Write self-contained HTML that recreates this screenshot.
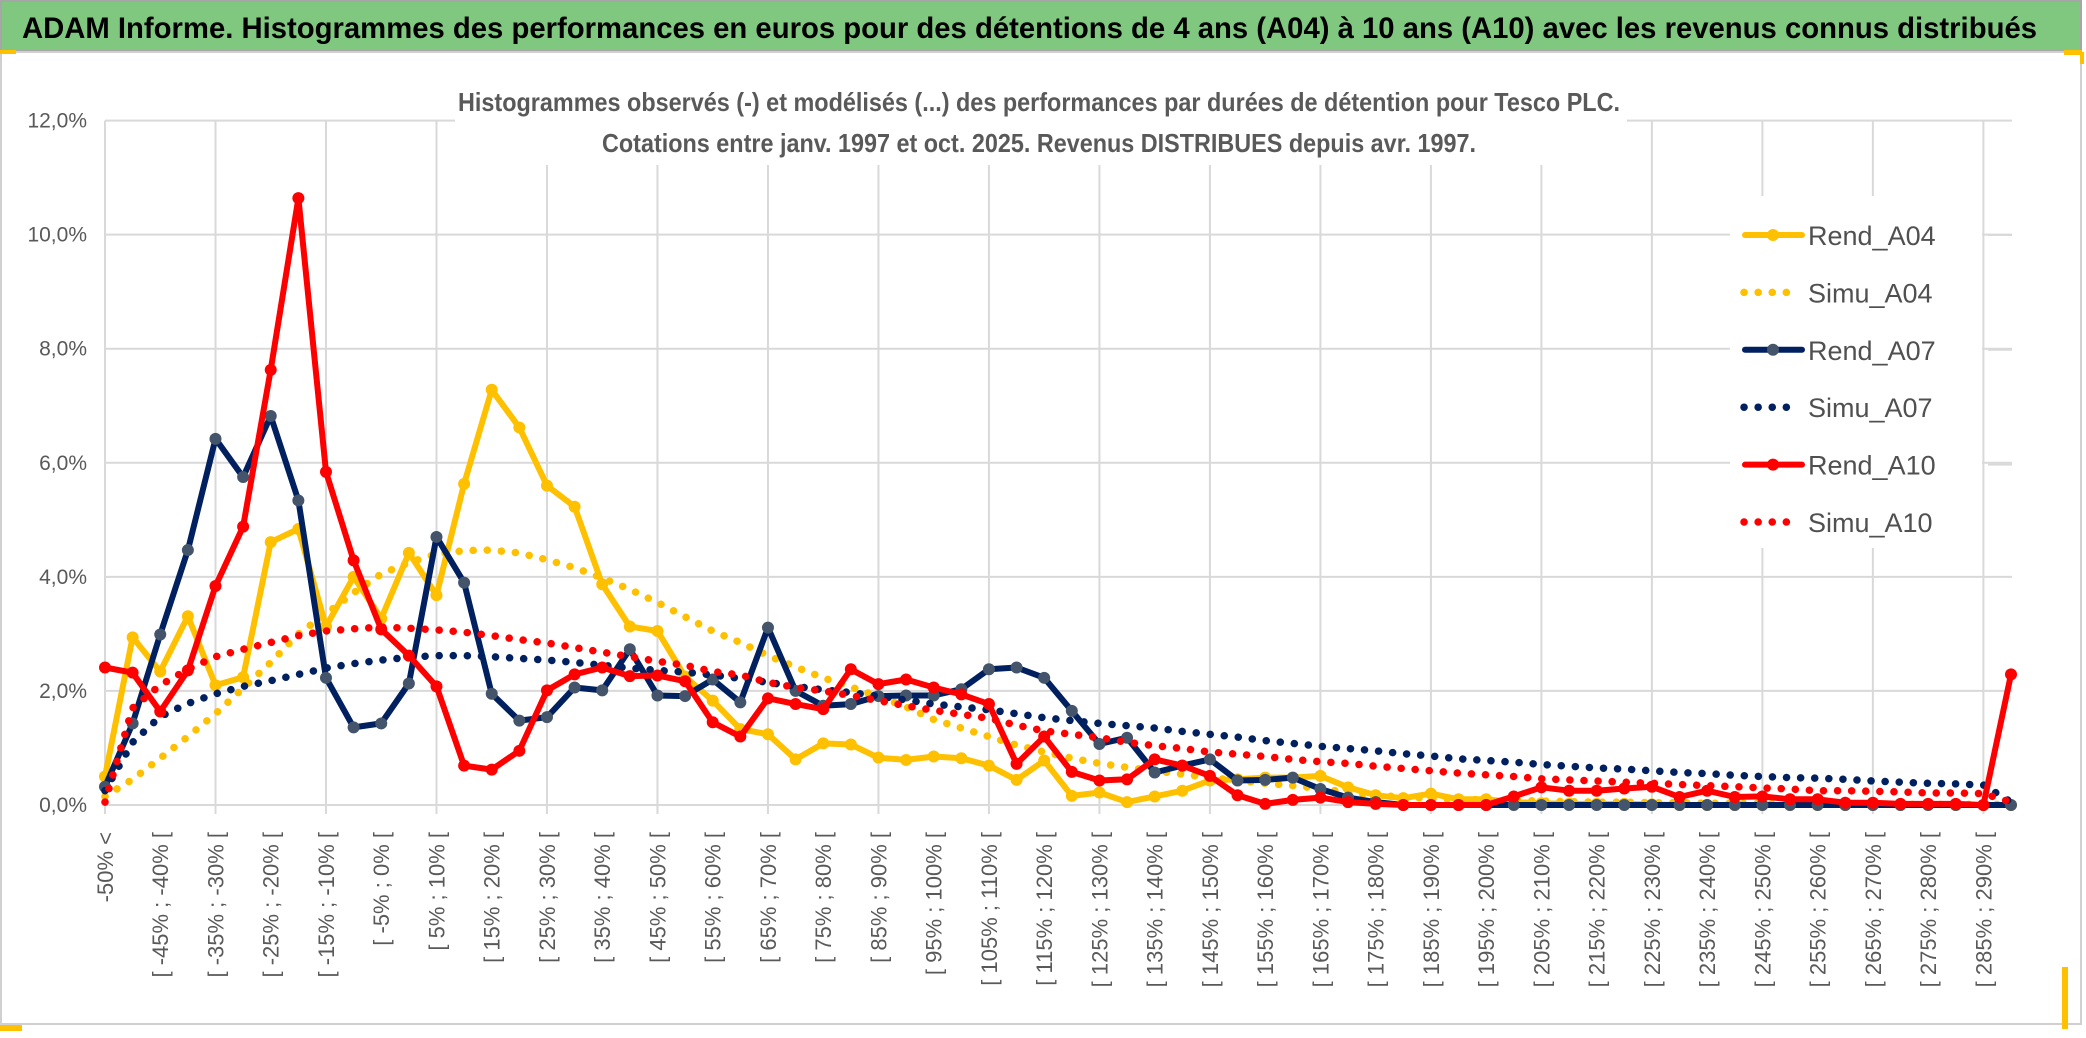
<!DOCTYPE html>
<html><head><meta charset="utf-8">
<style>
html,body{margin:0;padding:0;background:#fff;}
body{width:2086px;height:1033px;overflow:hidden;font-family:"Liberation Sans",sans-serif;}
svg text{font-family:"Liberation Sans",sans-serif;}
</style></head>
<body>
<svg id="chart" width="2086" height="1033" viewBox="0 0 2086 1033" xmlns="http://www.w3.org/2000/svg">
  <rect x="0" y="0" width="2086" height="1033" fill="#fff"/>
  <rect x="1" y="1" width="2080" height="50" fill="#80C880" stroke="#a6a6a6" stroke-width="2"/>
  <text x="22" y="38" font-size="30" font-weight="bold" fill="#000" textLength="2015" lengthAdjust="spacingAndGlyphs">ADAM Informe. Histogrammes des performances en euros pour des détentions de 4 ans (A04) à 10 ans (A10) avec les revenus connus distribués</text>
  <rect x="1" y="52" width="2080" height="972" fill="#fff" stroke="#d0d0d0" stroke-width="2"/>
  <rect x="0" y="50" width="16" height="4" fill="#FFC000"/>
  <rect x="2064" y="50" width="18" height="5" fill="#FFC000"/>
  <rect x="2080" y="52" width="4" height="12" fill="#FFC000"/>
  <rect x="0" y="1025" width="22" height="6" fill="#FFC000"/>
  <rect x="2062" y="967" width="6" height="62" fill="#FFC000"/>
  <g id="grid"></g>
  <g id="chart-title-box">
    <rect x="455" y="70" width="1172" height="95" fill="#fff"/>
    <text x="1039" y="111" font-size="26" font-weight="bold" fill="#595959" text-anchor="middle" textLength="1162" lengthAdjust="spacingAndGlyphs">Histogrammes observés (-) et modélisés (...) des performances par durées de détention pour Tesco PLC.</text>
    <text x="1039" y="152" font-size="26" font-weight="bold" fill="#595959" text-anchor="middle" textLength="874" lengthAdjust="spacingAndGlyphs">Cotations entre janv. 1997 et oct. 2025. Revenus DISTRIBUES depuis avr. 1997.</text>
  </g>
  <g id="yticks"></g>
  <g id="xticks"></g>
  <g id="series"></g>
  <g id="legend"></g>
</svg>
<script>
const categories = ["-50% <"];
for (let k = 1; k < 70; k++) { categories.push("[ " + (-55 + 5 * k) + "% ; " + (-50 + 5 * k) + "% ["); }
const yTickValues = [0, 2, 4, 6, 8, 10, 12];
const yTickLabels = ["0,0%", "2,0%", "4,0%", "6,0%", "8,0%", "10,0%", "12,0%"];
const rendA04 = [0.5,2.94,2.34,3.31,2.1,2.24,4.61,4.84,3.13,4.0,3.27,4.42,3.68,5.63,7.28,6.62,5.6,5.23,3.87,3.13,3.05,2.25,1.83,1.33,1.24,0.8,1.08,1.06,0.83,0.79,0.85,0.82,0.69,0.44,0.78,0.16,0.22,0.05,0.15,0.25,0.43,0.45,0.48,0.48,0.51,0.31,0.17,0.12,0.2,0.1,0.1,0.05,0.03,0.02,0.02,0.02,0.01,0,0,0,0,0,0,0,0,0,0,0,0,0];
const simuA04 = [0.15,0.45,0.82,1.2,1.6,2.05,2.5,3.0,3.35,3.72,4.05,4.25,4.4,4.46,4.47,4.42,4.3,4.16,3.98,3.78,3.55,3.3,3.05,2.85,2.62,2.42,2.23,2.07,1.9,1.72,1.5,1.35,1.2,1.05,0.93,0.82,0.73,0.66,0.6,0.54,0.48,0.43,0.38,0.34,0.29,0.22,0.17,0.14,0.12,0.1,0.09,0.08,0.07,0.06,0.05,0.05,0.04,0.04,0.03,0.03,0.03,0.02,0.02,0.02,0.02,0.01,0.01,0.01,0.01,0.01];
const rendA07 = [0.32,1.43,2.99,4.47,6.42,5.75,6.82,5.34,2.23,1.36,1.43,2.13,4.7,3.9,1.95,1.48,1.54,2.06,2.01,2.73,1.92,1.91,2.2,1.8,3.11,2.0,1.74,1.77,1.91,1.92,1.92,2.03,2.38,2.41,2.23,1.65,1.07,1.18,0.57,0.69,0.8,0.43,0.44,0.48,0.28,0.13,0.05,0,0,0,0,0,0,0,0,0,0,0,0,0,0,0,0,0,0,0,0,0,0,0];
const simuA07 = [0.25,1.1,1.55,1.78,1.95,2.08,2.18,2.29,2.4,2.48,2.54,2.59,2.62,2.62,2.6,2.57,2.54,2.5,2.45,2.4,2.36,2.33,2.28,2.22,2.15,2.08,2.02,1.97,1.91,1.84,1.77,1.72,1.67,1.6,1.53,1.48,1.43,1.39,1.35,1.29,1.24,1.19,1.13,1.08,1.03,0.99,0.95,0.9,0.86,0.81,0.78,0.75,0.71,0.68,0.65,0.63,0.6,0.57,0.55,0.52,0.5,0.48,0.47,0.45,0.42,0.4,0.38,0.37,0.35,0.05];
const rendA10 = [2.41,2.32,1.64,2.36,3.84,4.88,7.63,10.64,5.84,4.29,3.08,2.62,2.08,0.69,0.62,0.95,2.01,2.29,2.41,2.26,2.27,2.17,1.45,1.2,1.87,1.77,1.68,2.38,2.12,2.2,2.06,1.94,1.77,0.72,1.2,0.58,0.43,0.45,0.8,0.69,0.51,0.17,0.02,0.09,0.13,0.05,0.02,0,0,0,0,0.15,0.31,0.25,0.25,0.29,0.32,0.14,0.25,0.14,0.15,0.1,0.1,0.04,0.04,0.02,0.02,0.02,0,2.29];
const simuA10 = [0.05,1.7,2.1,2.38,2.6,2.73,2.85,2.97,3.05,3.09,3.12,3.1,3.07,3.03,2.97,2.9,2.84,2.76,2.68,2.6,2.52,2.45,2.34,2.28,2.15,2.06,2.0,1.92,1.83,1.74,1.66,1.59,1.52,1.4,1.3,1.24,1.18,1.1,1.04,0.99,0.93,0.89,0.85,0.8,0.76,0.73,0.68,0.64,0.6,0.56,0.53,0.5,0.46,0.44,0.42,0.4,0.38,0.36,0.34,0.32,0.3,0.28,0.25,0.25,0.24,0.23,0.21,0.21,0.2,0.05];
const seriesNames = ["Rend_A04","Simu_A04","Rend_A07","Simu_A07","Rend_A10","Simu_A10"];

const NS = "http://www.w3.org/2000/svg";
const X0 = 105, X1 = 2011, Y0 = 805, Y1 = 120.6, YMAX = 12;
function xPos(i) { return X0 + (X1 - X0) * i / (categories.length - 1); }
function yPos(v) { return Y0 - (Y0 - Y1) * v / YMAX; }
function mk(tag, attrs, parent) {
  const e = document.createElementNS(NS, tag);
  for (const k in attrs) e.setAttribute(k, attrs[k]);
  parent.appendChild(e);
  return e;
}

const grid = document.getElementById("grid");
yTickValues.forEach(function (v) {
  const l = mk("line", {x1: X0, x2: X1 + 1, y1: yPos(v), y2: yPos(v), stroke: "#d9d9d9", "stroke-width": 2}, grid);
  
  
});
for (let i = 0; i < categories.length; i += 4) {
  const l = mk("line", {x1: xPos(i), x2: xPos(i), y1: yPos(YMAX), y2: Y0 + 9, stroke: "#d9d9d9", "stroke-width": 2}, grid);
  
  
}

const yt = document.getElementById("yticks");
yTickValues.forEach(function (v, k) {
  const t = mk("text", {x: 87, y: yPos(v) + 7, "font-size": 21, fill: "#595959", "text-anchor": "end"}, yt);
  t.textContent = yTickLabels[k];
  
  
});

const xt = document.getElementById("xticks");
for (let i = 0; i < categories.length; i += 2) {
  const x = xPos(i) + 8, y = 832;
  const t = mk("text", {x: x, y: y, "font-size": 22, fill: "#595959", "text-anchor": "end", transform: "rotate(-90 " + x + " " + y + ")"}, xt);
  t.textContent = categories[i];
  
  
}

const sg = document.getElementById("series");
function ptsOf(arr) { return arr.map(function (v, i) { return xPos(i).toFixed(1) + "," + yPos(v).toFixed(1); }).join(" "); }
function drawRend(arr, color, markerColor, name) {
  const g = mk("g", {}, sg);
  
  
  mk("polyline", {points: ptsOf(arr), fill: "none", stroke: color, "stroke-width": 6, "stroke-linejoin": "round", "stroke-linecap": "round"}, g);
  arr.forEach(function (v, i) {
    const c = mk("circle", {cx: xPos(i), cy: yPos(v), r: 6, fill: markerColor}, g);
    
    
  });
}
function drawSimu(arr, color, name) {
  const p = mk("polyline", {points: ptsOf(arr), fill: "none", stroke: color, "stroke-width": 7.5, "stroke-linecap": "round", "stroke-dasharray": "0.1 14", "stroke-linejoin": "round"}, sg);
  
  
}
drawRend(rendA04, "#FFC000", "#FFC000", "rend-a04-line");
drawSimu(simuA04, "#FFC000", "simu-a04-line");
drawRend(rendA07, "#002060", "#44546A", "rend-a07-line");
drawSimu(simuA07, "#002060", "simu-a07-line");
drawRend(rendA10, "#FF0000", "#FF0000", "rend-a10-line");
drawSimu(simuA10, "#FF0000", "simu-a10-line");

const lg = document.getElementById("legend");
const lbg = mk("rect", {x: 1730, y: 196, width: 252, height: 352, fill: "#fff"}, lg);


const legColors = ["#FFC000","#FFC000","#002060","#002060","#FF0000","#FF0000"];
const legMarker = ["#FFC000","#FFC000","#44546A","#44546A","#FF0000","#FF0000"];
seriesNames.forEach(function (nm, k) {
  const yy = 235 + k * 57.4;
  const g = mk("g", {}, lg);
  
  
  if (k % 2 === 0) {
    mk("line", {x1: 1745, x2: 1802, y1: yy, y2: yy, stroke: legColors[k], "stroke-width": 6, "stroke-linecap": "round"}, g);
    mk("circle", {cx: 1773, cy: yy, r: 6, fill: legMarker[k]}, g);
    mk("line", {x1: 1988, x2: 2012, y1: yy, y2: yy, stroke: "#d9d9d9", "stroke-width": 2}, lg);
  } else {
    mk("line", {x1: 1744, x2: 1800, y1: yy, y2: yy, stroke: legColors[k], "stroke-width": 7.5, "stroke-linecap": "round", "stroke-dasharray": "0.1 14"}, g);
  }
  const t = mk("text", {x: 1808, y: yy + 10, "font-size": 27, fill: "#505050"}, g);
  t.textContent = nm;
});
</script>
</body></html>
